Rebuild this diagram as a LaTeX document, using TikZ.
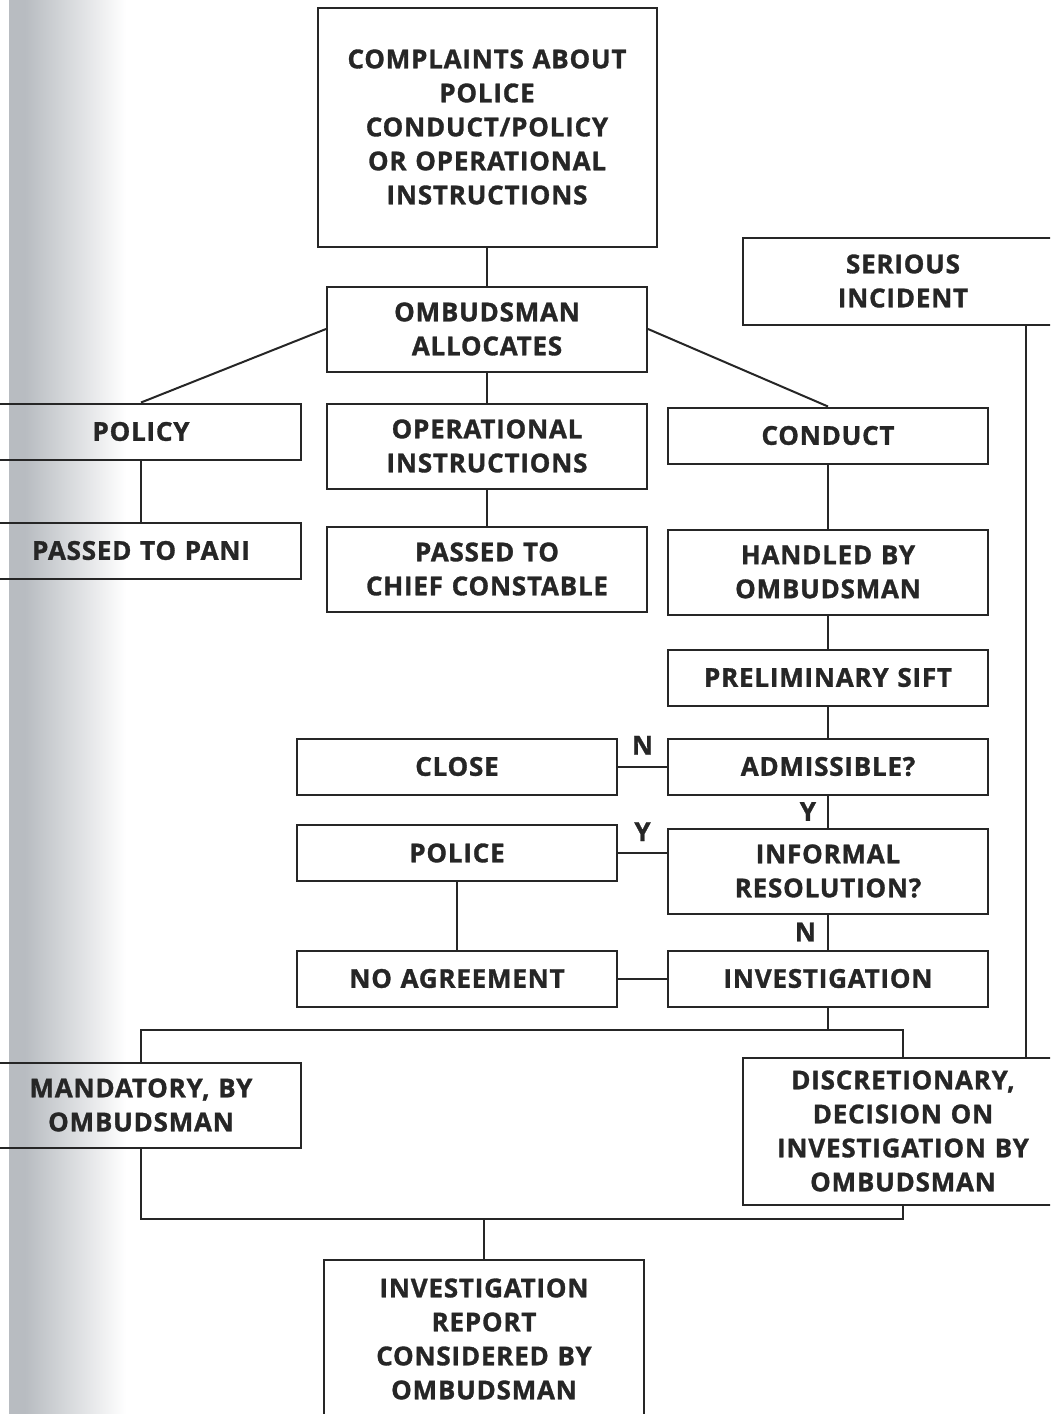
\documentclass[tikz,border=0pt]{standalone}
\usepackage{fontspec}
\setmainfont{Open Sans}[LetterSpace=3, BoldFeatures={FakeBold=1.2}]
\usepackage{tikz}
\usetikzlibrary{positioning}
\usetikzlibrary{shapes,arrows}
\definecolor{ink}{RGB}{38,38,38}
\definecolor{gutter}{RGB}{184,188,193}
\tikzstyle{block} = [rectangle, draw=ink, text=ink, line width=2pt, inner sep=0pt,
text width=300pt, text centered, minimum width=320pt, minimum height=56pt,
font=\fontsize{26}{34}\selectfont\bfseries]
\tikzstyle{block2} = [block, minimum height=85pt]
\tikzstyle{line} = [draw=ink, line width=2pt]
\tikzstyle{yn} = [text=ink, inner sep=11pt, font=\fontsize{26}{34}\selectfont\bfseries]

\begin{document}
\begin{tikzpicture}[x=1pt, y=1pt]
\path [use as bounding box, clip] (0,0) rectangle (1050,-1414);
\fill [gutter] (9,0) rectangle (26,-1414);
\shade [left color=gutter, right color=white] (25,0) rectangle (126,-1414);
    % nodes
\node [block, minimum width=339pt, minimum height=239pt] (cpoc) at (487,-127) {COMPLAINTS ABOUT\\ POLICE\\ CONDUCT/POLICY\\ OR OPERATIONAL\\ INSTRUCTIONS};
\node [block2, below=38pt of cpoc] (oa) {OMBUDSMAN\\ ALLOCATES};
\node [block2, below=30pt of oa] (oi) {OPERATIONAL\\ INSTRUCTIONS};
\node [block, left=24pt of oi.north west, anchor=north east] (pol) {POLICY};
\node [block, right=19pt of oi.north east, anchor=north west, yshift=-4pt] (con) {CONDUCT};
\node [block2, minimum height=87pt] (sinc) at (903,-281) {SERIOUS\\ INCIDENT};
\node [block, below=61pt of pol] (ptp) {PASSED TO PANI};
\node [block2, below=36pt of oi] (ptcc) {PASSED TO\\ CHIEF CONSTABLE};
\node [block2, below=64pt of con] (hbo) {HANDLED BY\\ OMBUDSMAN};
\node [block, below=33pt of hbo] (ps) {PRELIMINARY SIFT};
\node [block, below=31pt of ps] (adm) {ADMISSIBLE?};
\node [block2, below=32pt of adm] (ir) {INFORMAL\\ RESOLUTION?};
\node [block, below=35pt of ir] (inv) {INVESTIGATION};
\node [block, left=49pt of adm] (clo) {CLOSE};
\node [block, left=49pt of ir.west, anchor=east, yshift=18pt] (plc) {POLICE};
\node [block, left=49pt of inv] (na) {NO AGREEMENT};
\node [block2] (mbo) at (141,-1105) {MANDATORY, BY\\ OMBUDSMAN};
\node [block, minimum height=147pt] (ddio) at (903,-1131) {DISCRETIONARY,\\ DECISION ON\\ INVESTIGATION BY\\ OMBUDSMAN};
\node [block, minimum height=158pt] (ircbo) at (484,-1339) {INVESTIGATION\\ REPORT\\ CONSIDERED BY\\ OMBUDSMAN};

%edges
\path [line] (cpoc) -- (oa);
\path [line] (oa.west) -- (pol.north);
\path [line] (oa) -- (oi);
\path [line] (oa.east) -- (con.north);
\path [line] (pol) -- (ptp);
\path [line] (oi) -- (ptcc);
\path [line] (con) -- (hbo);
\path [line] (hbo) -- (ps);
\path [line] (ps) -- (adm);
\path [line] (adm) -- node [yn, above] {N} (clo);
\path [line] (adm) -- node [yn, left] {Y} (ir);
\path [line] (plc.east) -- node [yn, above] {Y} (plc.east -| ir.west);
\path [line] (ir) -- node [yn, left] {N} (inv);
\path [line] (plc) -- (na);
\path [line] (na) -- (inv);
\path [line] (inv.south) -- ++(0,-22) coordinate (spl);
\path [line] (mbo) |- (spl) -| (ddio);
\path [line] ([xshift=-38pt]sinc.south east) -- ([xshift=-38pt]sinc.south east |- ddio.north);
\path [line] (ircbo.north) -- ++(0,40) coordinate (mrg);
\path [line] (mbo) |- (mrg) -| (ddio);
\end{tikzpicture}
\end{document}
